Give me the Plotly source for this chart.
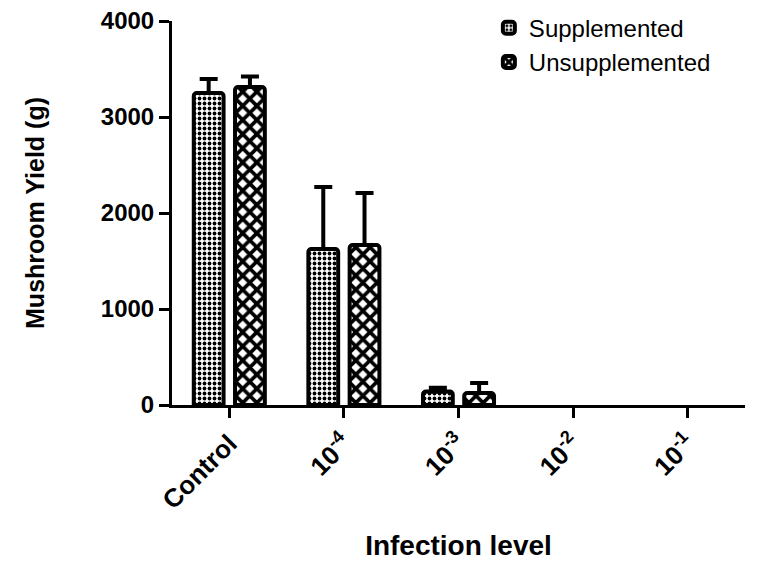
import plotly.graph_objects as go

# Infection levels (x categories) and their display labels
categories = ["Control", "1e-4", "1e-3", "1e-2", "1e-1"]
tick_labels = ["Control", "10<sup>-4</sup>", "10<sup>-3</sup>", "10<sup>-2</sup>", "10<sup>-1</sup>"]

# Mushroom yield (g), mean and upper error (None = no error bar shown)
supplemented = [3250, 1625, 140, 0, 0]
supplemented_err = [146, 646, 40, None, None]
unsupplemented = [3312, 1667, 125, 0, 0]
unsupplemented_err = [110, 541, 105, None, None]

FONT = "Liberation Sans, Arial, sans-serif"

fig = go.Figure()

series = [
    ("Supplemented", supplemented, supplemented_err, ".", 5, 0.45, -0.31),
    ("Unsupplemented", unsupplemented, unsupplemented_err, "x", 10, 0.6, 0.05),
]

for name, vals, errs, shape, psize, solid, off in series:
    # zero yield leaves nothing on the axis in the original, so skip those bars
    shown = [v if v > 0 else None for v in vals]
    lower = [0 if e is not None else None for e in errs]
    fig.add_trace(go.Bar(
        x=categories,
        y=shown,
        name=name,
        width=0.26,
        offset=off,
        marker=dict(
            color="white",
            line=dict(color="black", width=4),
            pattern=dict(shape=shape, size=psize, solidity=solid,
                         fgcolor="black", bgcolor="white", fillmode="replace"),
            cornerradius=3,
        ),
        error_y=dict(type="data", array=errs, arrayminus=lower,
                     symmetric=False, color="black", thickness=4, width=9),
    ))

# the page body adds an 8px margin, so the figure is drawn slightly smaller
fig.update_layout(
    width=754,
    height=553,
    plot_bgcolor="white",
    paper_bgcolor="white",
    margin=dict(l=164, r=17, t=13, b=156, autoexpand=False),
    barmode="group",
    font=dict(family=FONT, color="black"),
    legend=dict(
        x=0.553, y=1.04, xanchor="left", yanchor="top",
        font=dict(size=24, family=FONT),
        bgcolor="rgba(0,0,0,0)",
    ),
)

fig.update_xaxes(
    range=[-0.5, 4.5],
    tickmode="array",
    tickvals=categories,
    ticktext=tick_labels,
    tickangle=-45,
    tickfont=dict(size=26, family=FONT, weight="bold"),
    ticks="outside", ticklen=10, tickwidth=3, tickcolor="black",
    showline=True, linewidth=3, linecolor="black",
    showgrid=False, zeroline=False,
    title=dict(text="Infection level", font=dict(size=28, family=FONT, weight="bold"),
               standoff=22),
)

fig.update_yaxes(
    range=[0, 4000],
    tickvals=[0, 1000, 2000, 3000, 4000],
    tickfont=dict(size=24, family=FONT, weight="bold"),
    ticklabeloverflow="allow",
    ticks="outside", ticklen=10, tickwidth=3, tickcolor="black",
    showline=True, linewidth=3, linecolor="black",
    showgrid=False, zeroline=False,
    title=dict(text="Mushroom Yield (g)", font=dict(size=25, family=FONT, weight="bold"),
               standoff=50),
)

fig.write_html("out.html")
